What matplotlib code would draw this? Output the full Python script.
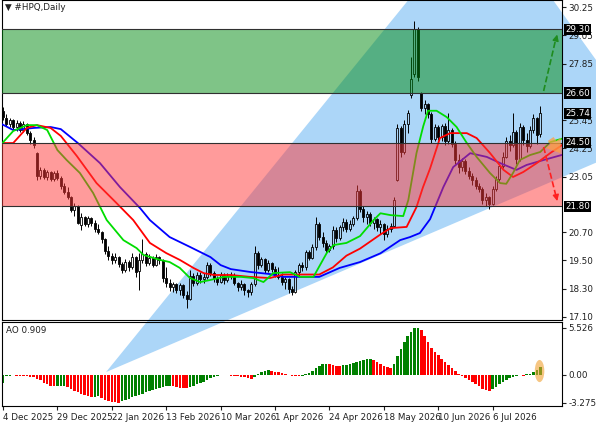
import matplotlib
matplotlib.use("Agg")
import matplotlib.pyplot as plt
import matplotlib.transforms as mtransforms
from matplotlib.patches import Polygon, Rectangle, Ellipse

# daily candles, bar 0 = 4 Dec 2025
opens = [25.85, 25.55, 25.30, 25.45, 25.15, 25.35, 25.05, 25.30, 24.90, 24.60,
         24.05, 23.10, 23.35, 23.05, 23.25, 22.95, 23.20, 23.00, 22.65, 22.40,
         22.20, 21.65, 21.80, 21.00, 21.35, 21.05, 21.30, 21.10, 20.85, 20.70,
         20.40, 19.90, 19.70, 19.50, 19.65, 19.35, 19.10, 19.45, 19.20, 19.65,
         19.05, 19.50, 19.75, 19.40, 19.60, 19.30, 19.65, 19.50, 18.75, 18.55,
         18.35, 18.50, 18.25, 18.45, 18.05, 17.85, 18.85, 18.55, 18.90, 18.70,
         18.80, 19.30, 18.95, 18.75, 18.60, 18.90, 18.65, 18.85, 18.90, 18.55,
         18.35, 18.50, 18.25, 18.15, 18.50, 19.80, 19.30, 19.55, 19.10, 19.40,
         19.15, 18.90, 18.80, 18.60, 18.70, 18.30, 18.15, 19.00, 19.30, 19.20,
         19.85, 19.60, 20.05, 21.05, 20.50, 20.25, 19.95, 20.10, 20.80, 20.45,
         20.90, 21.15, 20.85, 21.05, 21.30, 22.45, 21.70, 21.35, 21.45, 21.10,
         21.25, 20.90, 21.05, 20.60, 20.85, 20.95, 22.90, 25.10, 24.10, 25.30,
         26.50, 27.40, 29.30, 26.60, 25.95, 26.15, 25.70, 24.65, 25.15, 24.75,
         25.20, 24.55, 25.05, 24.45, 23.75, 23.45, 23.70, 23.30, 23.10, 22.90,
         22.65, 22.55, 22.05, 22.20, 21.90, 22.55, 22.95, 23.50, 23.90, 24.55,
         24.40, 24.95, 23.80, 25.15, 24.60, 24.35, 25.05, 25.55, 24.85]
highs = [26.00, 25.70, 25.55, 25.50, 25.45, 25.40, 25.40, 25.35, 25.00, 24.75,
         24.10, 23.45, 23.40, 23.35, 23.30, 23.30, 23.35, 23.10, 22.80, 22.60,
         22.25, 21.95, 21.85, 21.50, 21.40, 21.40, 21.35, 21.20, 21.05, 20.75,
         20.45, 20.10, 19.80, 19.80, 19.70, 19.45, 19.55, 19.50, 19.80, 19.70,
         19.80, 20.40, 19.85, 19.75, 19.70, 19.75, 19.70, 19.55, 19.20, 18.70,
         18.60, 18.55, 18.55, 18.50, 18.20, 19.10, 18.95, 19.00, 19.00, 18.95,
         19.45, 19.40, 19.05, 18.85, 19.00, 18.95, 18.95, 19.00, 18.95, 18.60,
         18.65, 18.55, 18.30, 18.60, 20.10, 19.90, 19.65, 19.60, 19.50, 19.45,
         19.25, 19.20, 18.95, 18.80, 18.75, 18.40, 19.10, 19.40, 19.45, 19.95,
         19.95, 20.20, 21.35, 21.15, 20.70, 20.35, 20.20, 20.95, 20.90, 21.00,
         21.30, 21.25, 21.20, 21.40, 22.70, 22.55, 21.80, 21.60, 21.55, 21.35,
         21.30, 21.20, 21.10, 21.00, 21.10, 22.20, 25.30, 25.20, 25.45, 25.90,
         28.15, 29.65, 29.40, 26.65, 26.30, 26.20, 25.80, 25.30, 25.25, 25.30,
         25.35, 25.75, 25.10, 24.55, 24.00, 23.85, 23.80, 23.45, 23.20, 23.05,
         22.80, 22.60, 22.35, 22.25, 22.65, 23.10, 23.60, 24.10, 24.75, 24.80,
         25.75, 25.05, 25.35, 25.25, 24.90, 25.20, 25.70, 25.60, 26.05]
lows = [25.45, 25.20, 25.15, 25.05, 25.00, 24.95, 24.95, 24.80, 24.45, 24.25,
        22.90, 22.95, 22.95, 22.90, 22.85, 22.85, 22.90, 22.55, 22.30, 22.10,
        21.55, 21.40, 21.05, 20.80, 20.95, 20.90, 20.95, 20.70, 20.60, 20.25,
        19.75, 19.50, 19.35, 19.40, 19.20, 18.95, 19.00, 19.05, 19.15, 18.80,
        18.25, 19.40, 19.25, 19.30, 19.20, 19.25, 19.35, 18.60, 18.35, 18.20,
        18.15, 18.10, 18.05, 17.90, 17.50, 17.80, 18.40, 18.45, 18.55, 18.55,
        18.70, 18.85, 18.60, 18.45, 18.55, 18.50, 18.60, 18.70, 18.45, 18.20,
        18.25, 18.05, 17.95, 18.05, 18.40, 19.15, 19.20, 18.95, 19.00, 19.00,
        18.80, 18.70, 18.45, 18.30, 18.10, 18.05, 18.10, 18.85, 19.05, 19.10,
        19.50, 19.55, 19.95, 20.35, 20.05, 19.80, 19.85, 20.00, 20.30, 20.35,
        20.75, 20.70, 20.75, 20.95, 21.20, 21.55, 21.15, 21.05, 20.95, 20.85,
        20.75, 20.60, 20.35, 20.50, 20.70, 20.90, 22.85, 23.90, 24.00, 24.90,
        26.40, 27.30, 27.10, 25.85, 25.70, 25.55, 24.50, 24.55, 24.60, 24.55,
        24.40, 24.45, 24.30, 23.60, 23.20, 23.30, 23.15, 22.95, 22.70, 22.55,
        22.40, 21.90, 21.80, 21.70, 21.85, 22.45, 22.85, 23.40, 23.85, 24.15,
        24.30, 23.60, 23.70, 24.40, 24.10, 24.25, 24.90, 24.45, 24.75]
closes = [25.60, 25.30, 25.45, 25.15, 25.35, 25.05, 25.30, 24.90, 24.60, 24.40,
          23.10, 23.35, 23.05, 23.25, 22.95, 23.20, 23.00, 22.65, 22.40, 22.20,
          21.65, 21.80, 21.10, 21.35, 21.05, 21.30, 21.10, 20.85, 20.70, 20.40,
          19.90, 19.70, 19.50, 19.65, 19.35, 19.10, 19.45, 19.20, 19.65, 19.00,
          19.50, 19.75, 19.40, 19.60, 19.30, 19.65, 19.50, 18.75, 18.55, 18.35,
          18.50, 18.25, 18.45, 18.05, 17.85, 18.85, 18.55, 18.90, 18.70, 18.80,
          19.30, 18.95, 18.75, 18.60, 18.90, 18.65, 18.85, 18.90, 18.55, 18.35,
          18.50, 18.25, 18.15, 18.50, 19.80, 19.30, 19.55, 19.10, 19.40, 19.15,
          18.90, 18.80, 18.60, 18.70, 18.30, 18.15, 19.00, 19.30, 19.20, 19.85,
          19.60, 20.05, 21.05, 20.50, 20.25, 19.95, 20.10, 20.80, 20.45, 20.90,
          21.15, 20.85, 21.05, 21.30, 22.45, 21.70, 21.35, 21.45, 21.10, 21.25,
          20.90, 21.05, 20.60, 20.85, 20.95, 22.05, 25.10, 24.10, 25.30, 25.75,
          27.20, 29.30, 27.30, 25.95, 26.15, 25.70, 24.65, 25.15, 24.75, 25.20,
          24.55, 25.05, 24.45, 23.75, 23.45, 23.70, 23.30, 23.10, 22.90, 22.65,
          22.55, 22.05, 22.20, 21.90, 22.55, 22.95, 23.50, 23.90, 24.55, 24.40,
          24.95, 23.80, 25.15, 24.60, 24.35, 25.05, 25.55, 24.80, 25.74]

# alligator lines (bar, price)
jaw_x = [-1, 3, 9, 14, 17, 22, 28.5, 34.4, 40.3, 43.2, 49, 55, 61, 64, 67, 72.6, 78.5,
         82.4, 93, 99, 105, 111, 116.8, 119.7, 122.6, 125.6, 129.5, 132.4, 137.4,
         142.3, 146.2, 151, 154, 159, 165]
jaw_y = [25.33, 25.03, 25.12, 25.16, 25.07, 24.48, 23.63, 22.61, 21.72, 21.21, 20.49,
         20.07, 19.64, 19.30, 19.13, 19.01, 18.92, 18.80, 18.80, 19.18, 19.43, 19.80,
         20.36, 20.49, 20.66, 21.25, 22.61, 23.46, 24.05, 23.89, 23.63, 23.34, 23.55,
         23.76, 24.00]
teeth_x = [-1, 3, 7, 10, 14, 17, 21.7, 27.5, 33.4, 38.3, 43.2, 48, 52, 56, 59, 62, 67,
           72.6, 78.5, 82.4, 87, 93, 97, 101, 105, 111, 114, 118.7, 121.6, 123.5,
           125.6, 128.5, 131.5, 136.4, 139.3, 143.2, 147.2, 150, 153, 157, 161, 165]
teeth_y = [24.48, 24.48, 25.12, 25.24, 25.12, 24.78, 23.93, 22.78, 21.93, 21.21, 20.24,
           19.81, 19.52, 19.18, 18.96, 18.88, 18.88, 18.80, 18.75, 18.90, 18.90, 18.90,
           19.20, 19.70, 20.00, 20.60, 20.87, 20.92, 21.76, 22.60, 23.40, 24.69, 24.90,
           24.90, 24.69, 24.06, 23.34, 23.04, 23.25, 23.63, 24.06, 24.45]
lips_x = [-1, 3, 7, 10, 13, 16, 18.7, 22.6, 26.5, 30.5, 35.4, 39.3, 41.3, 46.2, 49, 52,
          55, 58, 61, 65, 70, 73.6, 76.6, 79.5, 84.4, 87.4, 91.3, 95.2, 97.2, 101, 105,
          109, 111, 114, 117.7, 119.2, 121.6, 123.6, 125, 127.5, 130.5, 133.4, 136.4,
          139.3, 143.2, 146.2, 148, 150, 152, 155, 158, 161, 165]
lips_y = [24.35, 24.99, 25.24, 25.24, 25.03, 24.18, 23.76, 23.21, 22.36, 21.21, 20.36,
          20.02, 19.73, 19.52, 19.43, 19.18, 18.75, 18.58, 18.67, 18.80, 18.80, 18.75,
          18.58, 18.96, 19.00, 18.80, 18.80, 19.81, 20.15, 20.24, 20.53, 21.21, 21.50,
          21.42, 21.38, 22.06, 24.05, 25.20, 25.85, 25.85, 25.58, 25.16, 24.48, 23.89,
          23.21, 22.78, 22.75, 23.21, 23.76, 23.97, 24.10, 24.52, 24.69]

# awesome oscillator
ao = [-1.00, -0.15, -0.10, -0.06, -0.08, -0.12, -0.15, -0.18, -0.22, -0.30,
      -0.45, -0.65, -0.90, -1.10, -1.25, -1.30, -1.28, -1.26, -1.25, -1.40,
      -1.60, -1.85, -2.05, -2.25, -2.40, -2.50, -2.58, -2.55, -2.52, -2.70,
      -2.90, -3.05, -3.15, -3.22, -3.275, -3.10, -2.95, -2.80, -2.65, -2.50,
      -2.35, -2.20, -2.05, -1.90, -1.75, -1.62, -1.50, -1.40, -1.32, -1.28,
      -1.35, -1.42, -1.50, -1.55, -1.58, -1.45, -1.30, -1.12, -0.95, -0.78,
      -0.60, -0.42, -0.25, -0.12, -0.05, -0.03, -0.06, -0.10, -0.12, -0.18,
      -0.22, -0.30, -0.38, -0.45, -0.20, 0.05, 0.30, 0.50, 0.62, 0.45,
      0.35, 0.28, 0.20, 0.12, 0.02, -0.08, -0.15, -0.18, -0.10, 0.05,
      0.20, 0.45, 0.75, 1.05, 1.25, 1.30, 1.25, 1.15, 1.05, 1.00,
      1.10, 1.20, 1.30, 1.42, 1.55, 1.65, 1.75, 1.85, 1.90, 1.80,
      1.55, 1.25, 1.05, 0.90, 0.80, 1.30, 2.20, 3.00, 3.80, 4.50,
      5.00, 5.45, 5.526, 5.30, 4.60, 3.80, 3.20, 2.70, 2.30, 1.90,
      1.55, 1.20, 0.85, 0.50, 0.15, -0.10, -0.35, -0.60, -0.85, -1.10,
      -1.35, -1.60, -1.80, -1.90, -1.70, -1.40, -1.10, -0.85, -0.60, -0.40,
      -0.20, -0.08, -0.05, -0.10, 0.05, 0.12, 0.30, 0.60, 0.909]

date_labels = ["4 Dec 2025", "29 Dec 2025", "22 Jan 2026", "13 Feb 2026", "10 Mar 2026",
               "1 Apr 2026", "24 Apr 2026", "18 May 2026", "10 Jun 2026", "6 Jul 2026"]
price_ticks = [17.10, 18.30, 19.50, 20.70, 23.05, 24.25, 25.45, 27.85, 29.05, 30.25]
level_labels = [29.30, 26.60, 25.74, 24.50, 21.80]
buy_zone = (26.60, 29.30)
sell_zone = (21.80, 24.50)

W, H = 596, 425
fig = plt.figure(figsize=(W / 100, H / 100), dpi=100, facecolor="white")
ax = fig.add_axes([2 / W, 105 / H, 560 / W, 320 / H], facecolor="none")
ax2 = fig.add_axes([2 / W, 19 / H, 560 / W, 84 / H], facecolor="none")

n = len(closes)
bars = list(range(n))

# light blue triangle (drawn object, spills out of the price window)
tri = Polygon([(30.3, 14.76), (141.8, 34.56), (191.0, 24.67)], closed=True,
              facecolor="#acd6f8", edgecolor="none", zorder=0, clip_on=False)
ax.add_patch(tri)

# candles
for i in bars:
    o, h, l, c = opens[i], highs[i], lows[i], closes[i]
    top, bot = max(o, c), min(o, c)
    ax.vlines(i, top, h, color="black", lw=0.7, zorder=2)
    ax.vlines(i, l, bot, color="black", lw=0.7, zorder=2)
    fc = "none" if c >= o else "black"
    ax.add_patch(Rectangle((i - 0.3, bot), 0.6, max(top - bot, 0.03),
                           facecolor=fc, edgecolor="black", lw=0.6, zorder=3))

ax.plot(jaw_x, jaw_y, color="#0000ff", lw=1.3, zorder=4)
ax.plot(teeth_x, teeth_y, color="#ff0000", lw=1.3, zorder=4)
ax.plot(lips_x, lips_y, color="#00dd00", lw=1.3, zorder=4)

# zones on top, semi transparent
for (lo, hi), col in [(buy_zone, "#008a10"), (sell_zone, "#ff3838")]:
    ax.axhspan(lo, hi, facecolor=col, alpha=0.5, edgecolor="none", zorder=5)
    ax.axhline(lo, color="#303030", lw=0.8, zorder=6)
    ax.axhline(hi, color="#303030", lw=0.8, zorder=6)

# dashed arrows
ax.plot([159, 162.5], [26.69, 28.85], ls="--", color="#1e8c1e", lw=1.2, zorder=7, clip_on=False)
ax.annotate("", xy=(163.2, 29.2), xytext=(162.4, 28.75),
            arrowprops=dict(arrowstyle="-|>", color="#1e8c1e", lw=1.0, mutation_scale=9),
            zorder=7, annotation_clip=False)
ax.plot([159, 162.5], [24.31, 22.3], ls="--", color="#ff2020", lw=1.2, zorder=7, clip_on=False)
ax.annotate("", xy=(163.2, 21.9), xytext=(162.4, 22.4),
            arrowprops=dict(arrowstyle="-|>", color="#ff2020", lw=1.0, mutation_scale=9),
            zorder=7, annotation_clip=False)
ax.annotate("", xy=(164.4, 23.95), xytext=(160.6, 24.75),
            arrowprops=dict(arrowstyle="simple,head_width=1.3,head_length=0.9,tail_width=0.5",
                            color="#ffa040", alpha=0.75, lw=0),
            zorder=7, annotation_clip=False)

ax.set_xlim(-0.3, 164.4)
ax.set_ylim(16.97, 30.55)
ax.set_xticks([])
ax.yaxis.tick_right()
ax.set_yticks(price_ticks)
ax.set_yticklabels([f"{v:.2f}" for v in price_ticks])
ax.tick_params(axis="y", labelsize=6.3, length=3, pad=1.5, colors="#202020")
for s in ax.spines.values():
    s.set_color("black")
    s.set_linewidth(0.8)

trans = mtransforms.blended_transform_factory(ax.transAxes, ax.transData)
for v in level_labels:
    ax.text(1.006, v, f"{v:.2f}", transform=trans, color="white", fontsize=6.3,
            va="center", ha="left", zorder=8,
            bbox=dict(facecolor="black", edgecolor="none", pad=0.8))

# AO panel
colors = ["#008000" if i == 0 or ao[i] > ao[i - 1] else "#ff0000" for i in bars]
ax2.bar(bars, ao, width=0.75, color=colors, zorder=2)
ax2.add_patch(Ellipse((157.8, 0.45), 2.8, 2.6, facecolor="#f0a030", alpha=0.6,
                      edgecolor="none", zorder=3))
ax2.set_xlim(-0.3, 164.4)
ax2.set_ylim(-3.65, 6.2)
ax2.yaxis.tick_right()
ax2.set_yticks([5.526, 0.0, -3.275])
ax2.set_yticklabels(["5.526", "0.00", "-3.275"])
ax2.tick_params(axis="y", labelsize=6.3, length=3, pad=1.5, colors="#202020")
ax2.set_xticks(range(0, 145, 16))
ax2.set_xticklabels(date_labels)
ax2.tick_params(axis="x", labelsize=6.3, length=3, pad=2, colors="#202020")
for lbl in ax2.get_xticklabels():
    lbl.set_horizontalalignment("left")
for s in ax2.spines.values():
    s.set_color("black")
    s.set_linewidth(0.8)
ax2.text(0.008, 0.9, "AO 0.909", transform=ax2.transAxes, fontsize=6.3, va="center",
         color="#202020")

fig.text(5 / W, 1 - 8 / H, "\u25bc #HPQ,Daily", fontsize=6.3, va="center", color="#202020")

fig.savefig("out.png", dpi=100, facecolor="white")
